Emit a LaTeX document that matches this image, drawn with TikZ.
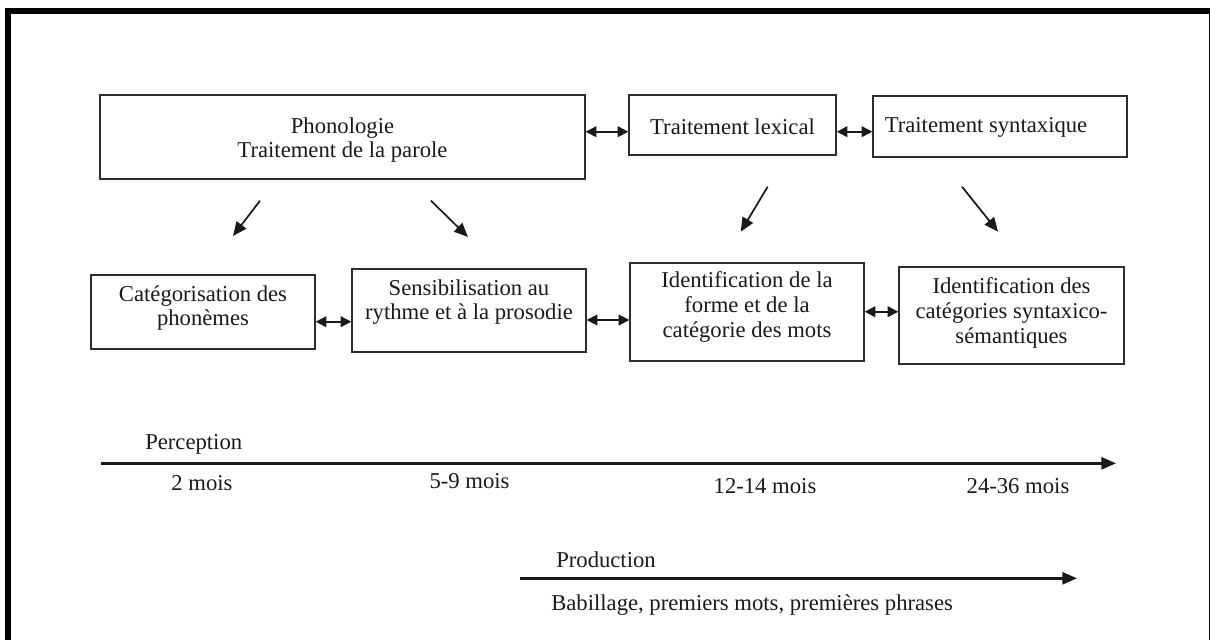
\documentclass[tikz,border=0pt]{standalone}
\usepackage{fontspec}
\setmainfont{Liberation Serif}
\usetikzlibrary{arrows.meta,calc}

\definecolor{ink}{HTML}{1A1A1A}
\definecolor{edge}{HTML}{2E2E2E}

\tikzset{
  box/.style={draw=edge, line width=1pt, rectangle, inner sep=0pt},
  txt/.style={align=center, text=ink, font=\fontsize{17}{18.5}\selectfont, inner sep=0pt},
  lab/.style={text=ink, font=\fontsize{17}{18.5}\selectfont, inner sep=0pt},
  dbl/.style={{Triangle[length=8pt,width=8pt]}-{Triangle[length=8pt,width=8pt]}, line width=1.3pt, draw=ink},
  diag/.style={-{Triangle[length=10.5pt,width=9pt]}, line width=1.3pt, draw=ink},
  axis/.style={-{Triangle[length=11pt,width=9pt]}, line width=2pt, draw=ink},
}

\begin{document}
\begin{tikzpicture}[x=0.75pt,y=-0.75pt]
  % page and frame
  \useasboundingbox (0,0) rectangle (1210,640);
  \fill[white] (0,0) rectangle (1210,640);
  \fill[black] (5,8) rectangle (1210,14);
  \fill[black] (5,8) rectangle (11,640);
  \fill[black] (1208.5,8) rectangle (1210,640);

  % upper row of boxes
  \node[box, minimum width=485*0.75pt, minimum height=84*0.75pt] (phon) at (342.5,137) {};
  \node[txt] (phonT) at (342.5,140) {Phonologie\\Traitement de la parole};
  \node[box, minimum width=207*0.75pt, minimum height=60*0.75pt] (lex) at (732.5,125) {};
  \node[txt] (lexT) at (732.5,127) {Traitement lexical};
  \node[box, minimum width=254*0.75pt, minimum height=61*0.75pt] (syn) at (1000,126.5) {};
  \node[txt] (synT) at (986,127) {Traitement syntaxique};

  % lower row of boxes
  \node[box, minimum width=224*0.75pt, minimum height=74*0.75pt] (cat) at (203,312) {};
  \node[txt] (catT) at (203,308) {Catégorisation des\\phonèmes};
  \node[box, minimum width=234*0.75pt, minimum height=83*0.75pt] (sens) at (469,310.5) {};
  \node[txt] (sensT) at (469,302) {Sensibilisation au\\rythme et à la prosodie};
  \node[box, minimum width=234*0.75pt, minimum height=98*0.75pt] (idf) at (747,312) {};
  \node[txt] (idfT) at (747,307) {Identification de la\\forme et de la\\catégorie des mots};
  \node[box, minimum width=225*0.75pt, minimum height=97*0.75pt] (idc) at (1011.5,315.5) {};
  \node[txt] (idcT) at (1011.5,313) {Identification des\\catégories syntaxico-\\sémantiques};

  % links between neighbouring boxes
  \draw[dbl] (phon.east |- 0,131.7) -- (lex.west |- 0,131.7);
  \draw[dbl] (lex.east |- 0,131.7) -- (syn.west |- 0,131.7);
  \draw[dbl] (cat.east |- 0,321.7) -- (sens.west |- 0,321.7);
  \draw[dbl] (sens.east |- 0,320) -- (idf.west |- 0,320);
  \draw[dbl] (idf.east |- 0,311.7) -- (idc.west |- 0,311.7);

  % diagonal arrows from the upper row to the lower row
  \coordinate (d1s) at (260,200.7);  \coordinate (d1e) at (233,236);
  \coordinate (d2s) at (431,200.7);  \coordinate (d2e) at (468,237);
  \coordinate (d3s) at (767.7,186.7); \coordinate (d3e) at (740.7,231.7);
  \coordinate (d4s) at (962,186.7);  \coordinate (d4e) at (998,231.7);
  \draw[diag] (d1s) -- (d1e);
  \draw[diag] (d2s) -- (d2e);
  \draw[diag] (d3s) -- (d3e);
  \draw[diag] (d4s) -- (d4e);

  % perception time line
  \coordinate (pA) at (100.7,463.3);
  \coordinate (pB) at (1116,463.3);
  \draw[axis] (pA) -- (pB);
  \node[lab, anchor=base west] (perc) at (145,449) {Perception};
  \node[lab, anchor=base] (m2) at (202,490.7) {2 mois};
  \node[lab, anchor=base] (m59) at (469.5,488.3) {5-9 mois};
  \node[lab, anchor=base] (m1214) at (765,493) {12-14 mois};
  \node[lab, anchor=base] (m2436) at (1018,493) {24-36 mois};

  % production time line
  \coordinate (qA) at (520,578.3);
  \coordinate (qB) at (1077,578.3);
  \draw[axis] (qA) -- (qB);
  \node[lab, anchor=west] (prod) at (556,560) {Production};
  \node[lab, anchor=west] (bab) at (551,605) {Babillage, premiers mots, premières phrases};
\end{tikzpicture}
\end{document}
